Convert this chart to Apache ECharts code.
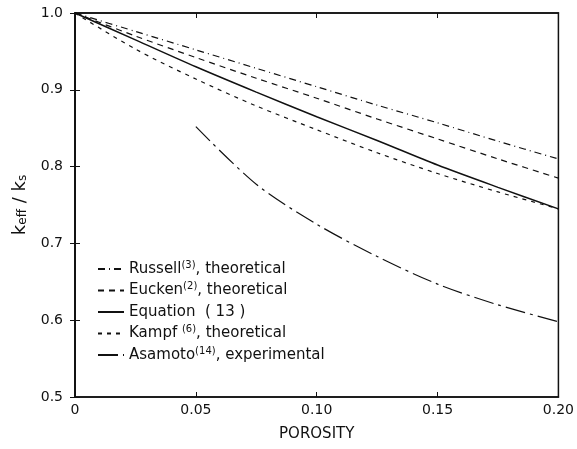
<!DOCTYPE html>
<html>
<head>
<meta charset="utf-8">
<script src="https://cdn.jsdelivr.net/npm/echarts@6/dist/echarts.min.js"></script>
<style>
  html, body { margin: 0; padding: 0; background: #fff; }
  #chart { width: 577px; height: 449px; }
</style>
</head>
<body>
<div id="chart"></div>
<script>
// 孔隙率 (porosity) 取值
var porosity = [0, 0.025, 0.05, 0.075, 0.10, 0.125, 0.15, 0.175, 0.20]
// 各理论曲线 keff/ks
var russell = [1.0, 0.976, 0.952, 0.928, 0.904, 0.880, 0.857, 0.833, 0.810]
var eucken = [1.0, 0.970, 0.942, 0.915, 0.889, 0.862, 0.836, 0.810, 0.785]
var equation13 = [1.0, 0.965, 0.930, 0.897, 0.865, 0.834, 0.802, 0.773, 0.745]
var kampf = [1.0, 0.953, 0.914, 0.879, 0.848, 0.818, 0.791, 0.767, 0.745]
// 实验数据 Asamoto
var asamotoX = [0.05, 0.075, 0.10, 0.125, 0.15, 0.175, 0.20]
var asamoto = [0.852, 0.777, 0.725, 0.683, 0.647, 0.620, 0.598]

var xTicks = [0, 0.05, 0.10, 0.15, 0.20]
var yTicks = [0.5, 0.6, 0.7, 0.8, 0.9, 1.0]

var legendNames = ['Russell', 'Eucken', 'Equation (13)', 'Kampf', 'Asamoto']
var legendText = {
  'Russell': 'Russell{s|(3)}, theoretical',
  'Eucken': 'Eucken{s|(2)}, theoretical',
  'Equation (13)': 'Equation  ( 13 )',
  'Kampf': 'Kampf {s|(6)}, theoretical',
  'Asamoto': 'Asamoto{s|(14)}, experimental'
}

function pairs (xs, ys) {
  return xs.map(function (x, i) {
    return [x, ys[i]]
  })
}

var font = 'DejaVu Sans'
var ink = '#111'

var chartInstance = echarts.init(document.getElementById('chart'))

function lineSeries (name, xs, ys, dash, width) {
  return {
    name: name,
    type: 'line',
    data: pairs(xs, ys),
    symbol: 'none',
    smooth: 0.3,
    lineStyle: {
      color: ink,
      width: width || 1.2,
      type: dash
    },
    itemStyle: { color: ink },
    emphasis: { disabled: true }
  }
}

var option = {
  backgroundColor: '#fff',
  animation: false,
  grid: {
    left: 75,
    right: 18,
    top: 13,
    bottom: 52,
    show: true,
    borderColor: ink,
    borderWidth: 1.5
  },
  legend: {
    orient: 'vertical',
    left: 92,
    top: 255,
    itemWidth: 26,
    itemHeight: 10,
    itemGap: 3.5,
    data: legendNames,
    itemStyle: { opacity: 0 },
    formatter: function (name) {
      return legendText[name]
    },
    textStyle: {
      fontFamily: font,
      fontSize: 15,
      color: ink,
      lineHeight: 18,
      rich: {
        s: {
          fontFamily: font,
          fontSize: 10,
          color: ink,
          verticalAlign: 'top',
          lineHeight: 10
        }
      }
    }
  },
  xAxis: [
    {
      type: 'value',
      min: 0,
      max: 0.2,
      interval: 0.05,
      name: 'POROSITY',
      nameLocation: 'middle',
      nameGap: 30,
      nameTextStyle: { fontFamily: font, fontSize: 15, color: ink },
      axisLine: { show: true, lineStyle: { color: ink, width: 1.5 } },
      axisTick: { show: true, inside: true, length: 5, lineStyle: { color: ink } },
      splitLine: { show: false },
      axisLabel: {
        fontFamily: font,
        fontSize: 14,
        color: ink,
        margin: 6,
        formatter: function (v) {
          var i = xTicks.indexOf(Math.round(v * 100) / 100)
          if (i < 0) return ''
          return i === 0 ? '0' : xTicks[i].toFixed(2)
        }
      }
    },
    {
      type: 'value',
      position: 'top',
      min: 0,
      max: 0.2,
      interval: 0.05,
      axisLine: { show: true, lineStyle: { color: ink, width: 1.5 } },
      axisTick: { show: true, inside: true, length: 5, lineStyle: { color: ink } },
      axisLabel: { show: false },
      splitLine: { show: false }
    }
  ],
  yAxis: [
    {
      type: 'value',
      min: 0.5,
      max: 1.0,
      interval: 0.1,
      name: 'k{sub|eff} / k{sub|s}',
      nameLocation: 'middle',
      nameRotate: 90,
      nameGap: 46,
      nameTextStyle: {
        fontFamily: font,
        fontSize: 18,
        color: ink,
        rich: {
          sub: {
            fontFamily: font,
            fontSize: 12,
            color: ink,
            verticalAlign: 'bottom'
          }
        }
      },
      axisLine: { show: true, lineStyle: { color: ink, width: 1.5 } },
      axisTick: { show: true, inside: true, length: 5, lineStyle: { color: ink } },
      splitLine: { show: false },
      axisLabel: {
        fontFamily: font,
        fontSize: 14,
        color: ink,
        margin: 12,
        formatter: function (v) {
          return v.toFixed(1)
        }
      }
    },
    {
      type: 'value',
      position: 'right',
      min: 0.5,
      max: 1.0,
      interval: 0.1,
      axisLine: { show: true, lineStyle: { color: ink, width: 1.5 } },
      axisTick: { show: true, inside: true, length: 5, lineStyle: { color: ink } },
      axisLabel: { show: false },
      splitLine: { show: false }
    }
  ],
  series: [
    lineSeries('Russell', porosity, russell, [7, 4, 1, 4]),
    lineSeries('Eucken', porosity, eucken, [6, 5]),
    lineSeries('Equation (13)', porosity, equation13, 'solid', 1.5),
    lineSeries('Kampf', porosity, kampf, [4, 5]),
    lineSeries('Asamoto', asamotoX, asamoto, [20, 5, 3, 5])
  ]
}

chartInstance.setOption(option)
</script>
</body>
</html>
